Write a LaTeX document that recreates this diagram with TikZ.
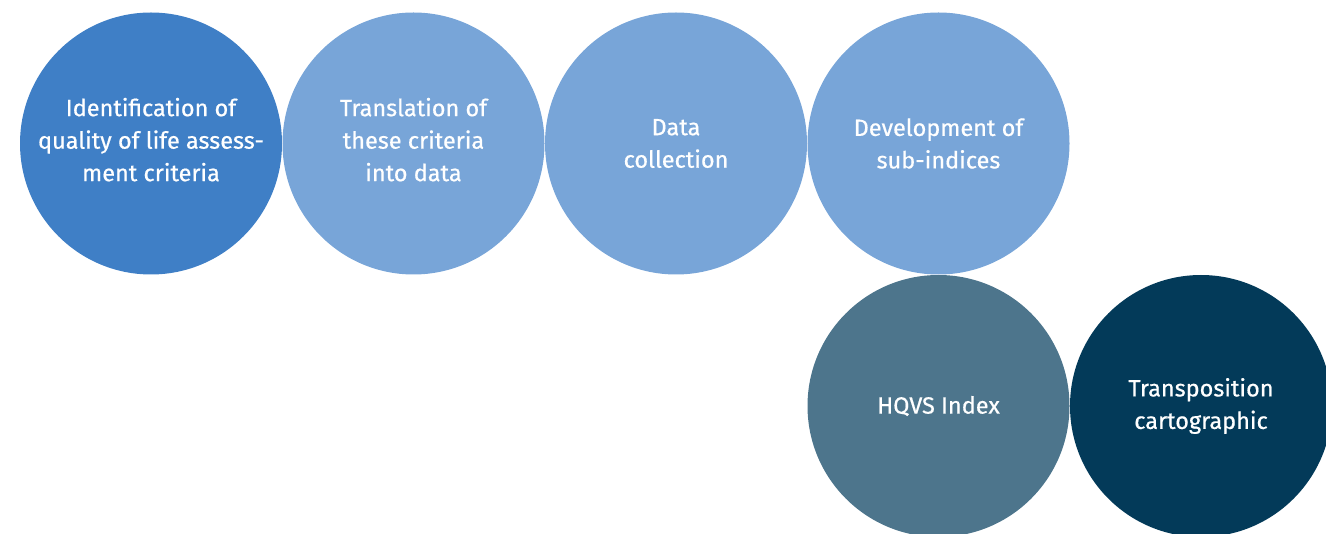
\documentclass[tikz,border=0pt]{standalone}
\usepackage{fontspec}
\setmainfont{Fira Sans}
\newfontfamily\bubblefont{Fira Sans}[FakeBold=0.6]
\definecolor{cA}{HTML}{3F7FC6}
\definecolor{cB}{HTML}{78A5D8}
\definecolor{cC}{HTML}{4D758C}
\definecolor{cD}{HTML}{033A59}
\newcommand{\lowfill}{\rule[-8pt]{0pt}{8pt}}
\begin{document}
\begin{tikzpicture}[x=1pt,y=-1pt,
  bubble/.style={circle,minimum size=262pt,inner sep=0pt,draw=none,text=white,align=center,
    font=\bubblefont\fontsize{23.5}{32.5}\selectfont}]
\useasboundingbox (0,0) rectangle (1326,534);
\clip (0,0) rectangle (1326,534);
\node[bubble,fill=cA] (n1) at (151,143.5) {Identification of\\quality of life assess-\\ment criteria\lowfill};
\node[bubble,fill=cB] (n2) at (413.5,143.5) {Translation of\\these criteria\\into data\lowfill};
\node[bubble,fill=cB] (n3) at (676,143.5) {Data\\collection};
\node[bubble,fill=cB] (n4) at (938.5,143.5) {Development of\\sub-indices};
\node[bubble,fill=cC] (n5) at (938.5,406) {HQVS Index};
\node[bubble,fill=cD] (n6) at (1201,406) {Transposition\\cartographic};
\end{tikzpicture}
\end{document}
